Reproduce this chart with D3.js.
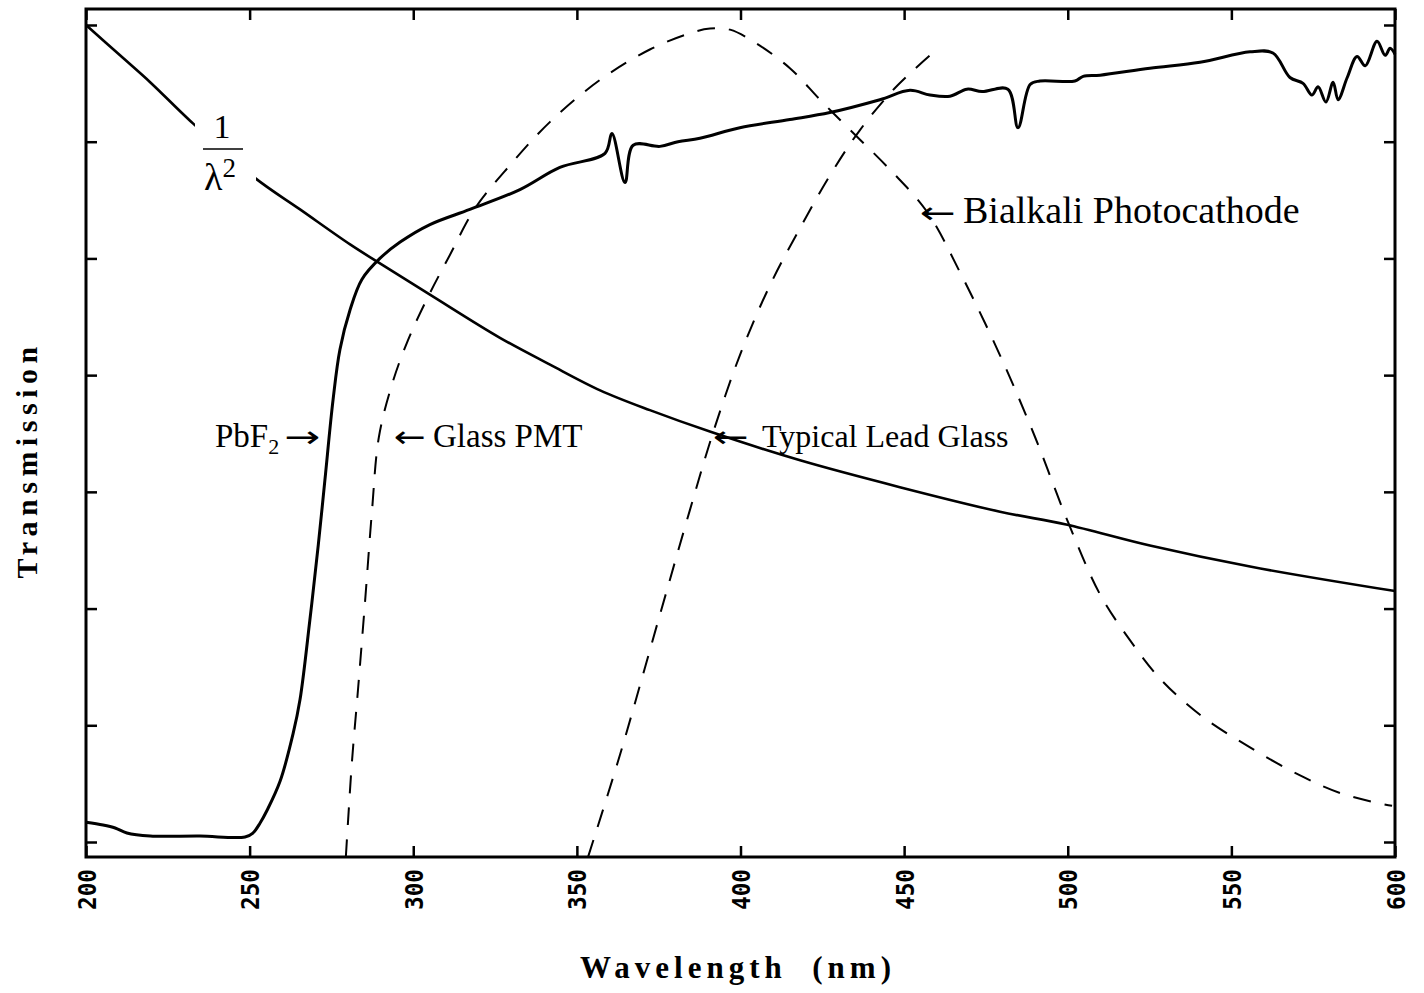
<!DOCTYPE html>
<html>
<head>
<meta charset="utf-8">
<script src="https://cdnjs.cloudflare.com/ajax/libs/d3/7.8.5/d3.min.js"></script>
<style>
  html, body { margin: 0; padding: 0; background: #fff; }
  svg { display: block; }
</style>
</head>
<body>
<svg id="chart" width="1424" height="993"></svg>
<script>
// ---- Data (wavelength in nm, transmission in arbitrary units: tick = 1) ----
const xTicks = [200, 250, 300, 350, 400, 450, 500, 550, 600];
const yTicks = [0, 1, 2, 3, 4, 5, 6, 7];

const invLambdaNm  = [200, 210.4, 219.6, 231.8, 251.6, 265.4, 280.7, 290.8, 305.1, 326.5, 341.8, 357.1, 372.3, 391.3, 418.2, 448.7, 479.3, 499.5, 525.1, 555.7, 600];
const invLambdaVal = [7.00, 6.74, 6.51, 6.18, 5.69, 5.42, 5.12, 4.94, 4.69, 4.32, 4.09, 3.87, 3.70, 3.51, 3.27, 3.04, 2.83, 2.72, 2.54, 2.36, 2.15];

const pbf2Nm  = [200, 205.2, 208.9, 212.5, 219.6, 234.8, 248.6, 251.0, 253.2, 255.3, 259.3, 263.3, 265.4, 268.4, 271.0, 273.0, 275.5, 277.6, 280.7, 284.3, 289.8, 296.0, 305.1, 317.3, 332.6, 344.8, 358.6, 360.7, 364.7, 367.2, 375.4, 380.9, 387.6, 399.8, 415.1, 427.3, 442.6, 451.8, 457.9, 464.0, 469.2, 473.8, 481.7, 484.8, 488.5, 491.5, 502.2, 504.7, 509.9, 525.1, 540.4, 555.7, 562.7, 567.9, 571.9, 574.6, 576.5, 578.9, 581.1, 582.6, 585.4, 588.4, 590.9, 594.5, 597.0, 598.5, 600];
const pbf2Val = [0.17, 0.146, 0.12, 0.077, 0.051, 0.051, 0.043, 0.077, 0.163, 0.27, 0.52, 0.93, 1.22, 1.90, 2.55, 3.10, 3.79, 4.22, 4.56, 4.82, 5.00, 5.14, 5.29, 5.42, 5.59, 5.78, 5.90, 6.07, 5.65, 5.97, 5.96, 6.00, 6.03, 6.12, 6.19, 6.25, 6.36, 6.44, 6.40, 6.39, 6.45, 6.43, 6.45, 6.12, 6.49, 6.52, 6.52, 6.56, 6.57, 6.63, 6.68, 6.77, 6.76, 6.55, 6.50, 6.40, 6.47, 6.34, 6.51, 6.36, 6.55, 6.73, 6.65, 6.86, 6.74, 6.80, 6.75];

const bialkaliNm  = [279.4, 280.1, 281.3, 283.1, 285.3, 287.4, 289.5, 293.5, 298.4, 304.5, 311.2, 318.9, 329.6, 341.8, 357.1, 372.3, 384.6, 390.7, 396.8, 404.4, 415.1, 424.3, 432.8, 445.7, 457.0, 467.1, 479.3, 490.0, 500.1, 509.9, 519.0, 528.2, 540.4, 555.7, 571.0, 583.2, 595.4, 599.1];
const bialkaliVal = [-0.13, 0.19, 0.70, 1.30, 2.07, 2.84, 3.47, 3.92, 4.30, 4.67, 5.03, 5.43, 5.80, 6.17, 6.53, 6.79, 6.93, 6.97, 6.96, 6.85, 6.63, 6.36, 6.12, 5.76, 5.40, 4.88, 4.17, 3.47, 2.74, 2.12, 1.73, 1.40, 1.09, 0.81, 0.57, 0.42, 0.33, 0.31];

const leadGlassNm  = [353.4, 363.2, 375.4, 384.6, 391.3, 399.8, 409.0, 418.2, 427.3, 436.5, 447.2, 457.9];
const leadGlassVal = [-0.13, 0.75, 1.95, 2.85, 3.48, 4.17, 4.77, 5.26, 5.71, 6.10, 6.46, 6.74];

// ---- Layout ----
const svg = d3.select("#chart");
const L = 86, R = 1395, T = 9, B = 857;
const x = d3.scaleLinear().domain([200, 600]).range([L, R]);
const y = d3.scaleLinear().domain([-0.1285, 7.137]).range([B, T]);

const zip = (a, b) => a.map((v, i) => [v, b[i]]);
const line = d3.line().x(d => x(d[0])).y(d => y(d[1])).curve(d3.curveCatmullRom.alpha(0.5));

const plot = svg.append("g");

// curves
plot.append("path").attr("d", line(zip(invLambdaNm, invLambdaVal)))
  .attr("fill", "none").attr("stroke", "#000").attr("stroke-width", 2.6);
plot.append("path").attr("d", line(zip(pbf2Nm, pbf2Val)))
  .attr("fill", "none").attr("stroke", "#000").attr("stroke-width", 3).attr("stroke-linejoin", "round");
plot.append("path").attr("d", line(zip(bialkaliNm, bialkaliVal)))
  .attr("fill", "none").attr("stroke", "#000").attr("stroke-width", 2).attr("stroke-dasharray", "18,14");
plot.append("path").attr("d", line(zip(leadGlassNm, leadGlassVal)))
  .attr("fill", "none").attr("stroke", "#000").attr("stroke-width", 2).attr("stroke-dasharray", "18,14");

// gap in 1/lambda^2 curve behind its label
svg.append("rect").attr("x", 195).attr("y", 92).attr("width", 61).attr("height", 110).attr("fill", "#fff");

// frame
svg.append("rect").attr("x", L).attr("y", T).attr("width", R - L).attr("height", B - T)
  .attr("fill", "none").attr("stroke", "#000").attr("stroke-width", 3);

// axes with inward ticks
const tick = 11;
svg.append("g").attr("transform", `translate(0,${B})`)
  .call(d3.axisBottom(x).tickValues(xTicks).tickSize(-tick).tickFormat(""))
  .call(g => g.select(".domain").remove())
  .selectAll("line").attr("stroke-width", 2.5);
svg.append("g").attr("transform", `translate(0,${T})`)
  .call(d3.axisTop(x).tickValues(xTicks).tickSize(-tick).tickFormat(""))
  .call(g => g.select(".domain").remove())
  .selectAll("line").attr("stroke-width", 2.5);
svg.append("g").attr("transform", `translate(${L},0)`)
  .call(d3.axisLeft(y).tickValues(yTicks).tickSize(-tick).tickFormat(""))
  .call(g => g.select(".domain").remove())
  .selectAll("line").attr("stroke-width", 2.5);
svg.append("g").attr("transform", `translate(${R},0)`)
  .call(d3.axisRight(y).tickValues(yTicks).tickSize(-tick).tickFormat(""))
  .call(g => g.select(".domain").remove())
  .selectAll("line").attr("stroke-width", 2.5);

// x tick labels (rotated)
svg.append("g").selectAll("text").data(xTicks).join("text")
  .attr("transform", d => `translate(${x(d) + 1},869) rotate(-90)`)
  .attr("text-anchor", "end")
  .attr("dominant-baseline", "central")
  .attr("font-family", "DejaVu Sans Mono")
  .attr("font-weight", "bold")
  .attr("font-size", 25)
  .attr("textLength", 41)
  .attr("lengthAdjust", "spacingAndGlyphs")
  .text(d => d);

// axis titles
svg.append("text")
  .attr("x", 738).attr("y", 978)
  .attr("text-anchor", "middle")
  .attr("font-family", "Liberation Serif")
  .attr("font-weight", "bold").attr("font-size", 31)
  .attr("letter-spacing", 5)
  .attr("xml:space", "preserve")
  .text("Wavelength  (nm)");
svg.append("text")
  .attr("transform", "translate(37,460) rotate(-90)")
  .attr("text-anchor", "middle")
  .attr("font-family", "Liberation Serif")
  .attr("font-weight", "bold").attr("font-size", 30)
  .attr("letter-spacing", 5.5)
  .text("Transmission");

// annotations
const serif = "Liberation Serif, DejaVu Serif, serif";
// 1/lambda^2 fraction
svg.append("text").attr("x", 222).attr("y", 138).attr("text-anchor", "middle")
  .attr("font-family", serif).attr("font-size", 34).text("1");
svg.append("line").attr("x1", 203).attr("x2", 243).attr("y1", 149).attr("y2", 149)
  .attr("stroke", "#000").attr("stroke-width", 1.6);
const lam = svg.append("text").attr("x", 204).attr("y", 190)
  .attr("font-family", serif).attr("font-size", 38);
lam.append("tspan").text("λ");
lam.append("tspan").attr("font-size", 27).attr("dy", -13).text("2");

// arrows as separate glyphs, stretched to the reference widths
function arrow(ch, x0, w, yb) {
  svg.append("text").attr("x", x0).attr("y", yb)
    .attr("font-family", "DejaVu Sans").attr("font-size", 30)
    .attr("textLength", w).attr("lengthAdjust", "spacingAndGlyphs")
    .text(ch);
}

// PbF2 ->
const pb = svg.append("text").attr("x", 215).attr("y", 447)
  .attr("font-family", serif).attr("font-size", 33);
pb.append("tspan").text("PbF");
pb.append("tspan").attr("font-size", 22).attr("dy", 7).text("2");
arrow("→", 284, 36, 447);

arrow("←", 394, 32, 447);
svg.append("text").attr("x", 433).attr("y", 447)
  .attr("font-family", serif).attr("font-size", 33).text("Glass PMT");
arrow("←", 713, 36, 447);
svg.append("text").attr("x", 762).attr("y", 447)
  .attr("font-family", serif).attr("font-size", 32).text("Typical Lead Glass");
arrow("←", 920, 36, 223);
svg.append("text").attr("x", 963).attr("y", 223)
  .attr("font-family", serif).attr("font-size", 38).text("Bialkali Photocathode");
</script>
</body>
</html>
